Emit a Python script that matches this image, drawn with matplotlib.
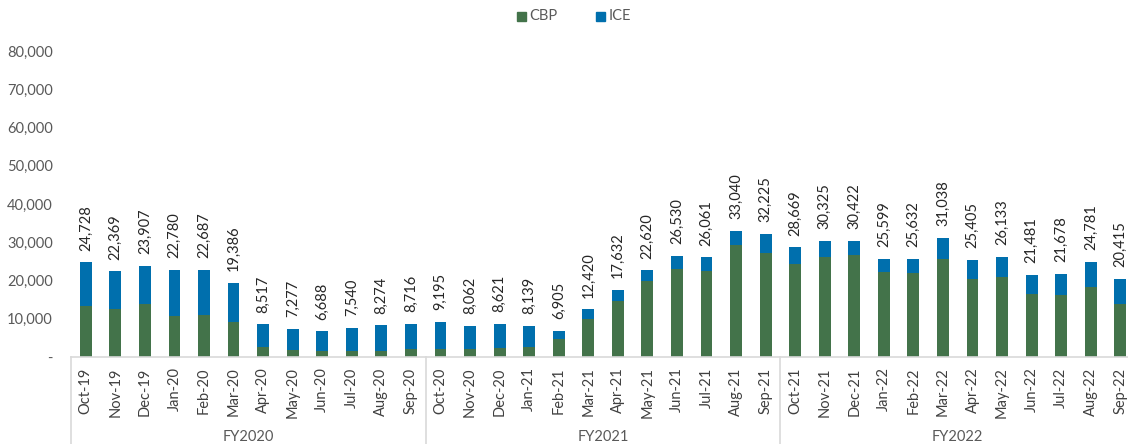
import matplotlib
matplotlib.use("Agg")
import matplotlib.pyplot as plt
from matplotlib.lines import Line2D
from matplotlib.patches import Rectangle

plt.rcParams['font.family'] = ['Lato', 'DejaVu Sans']

months = ["Oct-19", "Nov-19", "Dec-19", "Jan-20", "Feb-20", "Mar-20", "Apr-20", "May-20",
          "Jun-20", "Jul-20", "Aug-20", "Sep-20",
          "Oct-20", "Nov-20", "Dec-20", "Jan-21", "Feb-21", "Mar-21", "Apr-21", "May-21",
          "Jun-21", "Jul-21", "Aug-21", "Sep-21",
          "Oct-21", "Nov-21", "Dec-21", "Jan-22", "Feb-22", "Mar-22", "Apr-22", "May-22",
          "Jun-22", "Jul-22", "Aug-22", "Sep-22"]
totals = [24728, 22369, 23907, 22780, 22687, 19386, 8517, 7277, 6688, 7540, 8274, 8716,
          9195, 8062, 8621, 8139, 6905, 12420, 17632, 22620, 26530, 26061, 33040, 32225,
          28669, 30325, 30422, 25599, 25632, 31038, 25405, 26133, 21481, 21678, 24781, 20415]
cbp = [13260, 12570, 13960, 10650, 11080, 9250, 2700, 1750, 1480, 1480, 1480, 2000,
       2180, 2000, 2440, 2700, 4710, 10030, 14750, 19900, 23120, 22600, 29400, 27140,
       24350, 26090, 26610, 22160, 21990, 25740, 20330, 20860, 16400, 16230, 18240, 13960]
ice = [t - c for t, c in zip(totals, cbp)]
fiscal_years = ["FY2020", "FY2021", "FY2022"]
yticks = [0, 10000, 20000, 30000, 40000, 50000, 60000, 70000, 80000]
ytick_labels = ["-", "10,000", "20,000", "30,000", "40,000", "50,000", "60,000", "70,000", "80,000"]

GREEN = "#43734A"
BLUE = "#006FAD"
W, H = 1128, 444
fig = plt.figure(figsize=(W / 100, H / 100), dpi=100)
ax = fig.add_axes([71 / W, (H - 357) / H, 1 - 71 / W, (357 - 51) / H])

x = list(range(len(months)))
ax.bar(x, cbp, width=0.40, color=GREEN, label="CBP")
ax.bar(x, ice, width=0.40, bottom=cbp, color=BLUE, label="ICE")

for xi, t in zip(x, totals):
    ax.annotate(f"{t:,}", (xi, t), xytext=(0, 8.5), textcoords="offset points",
                rotation=90, ha="center", va="bottom", fontsize=10.5, color="#262626")

ax.set_xlim(-0.5, 35.26)
ax.set_ylim(0, 80000)
ax.set_yticks(yticks)
ax.set_yticklabels(ytick_labels, fontsize=10.5, color="#595959")
ax.tick_params(axis="y", length=0, pad=13)
ax.set_xticks(x)
ax.set_xticklabels(months, rotation=90, fontsize=10.5, color="#404040")
ax.tick_params(axis="x", length=0, pad=7.5)
for s in ["top", "right", "left"]:
    ax.spines[s].set_visible(False)
ax.spines["bottom"].set_color("#D9D9D9")
ax.spines["bottom"].set_linewidth(1.2)

# group separators and fiscal-year labels
trans = ax.get_xaxis_transform()
for b in [-0.5, 11.5, 23.5]:
    ax.add_line(Line2D([b, b], [0, -0.3], transform=trans, color="#D9D9D9",
                       linewidth=1.2, clip_on=False))
for i, fy in enumerate(fiscal_years):
    ax.text(i * 12 + 5.5, -(437 - 357) / (357 - 51), fy, transform=trans, ha="center",
            va="center", fontsize=10.5, color="#595959")

# legend
fig.patches.append(Rectangle((517 / W, (H - 21) / H), 9 / W, 9 / H, transform=fig.transFigure,
                             color=GREEN))
fig.text(529 / W, (H - 16) / H, "CBP", ha="left", va="center", fontsize=10.5, color="#595959")
fig.patches.append(Rectangle((596 / W, (H - 21) / H), 9 / W, 9 / H, transform=fig.transFigure,
                             color=BLUE))
fig.text(609 / W, (H - 16) / H, "ICE", ha="left", va="center", fontsize=10.5, color="#595959")

fig.savefig("out.png", dpi=100)
